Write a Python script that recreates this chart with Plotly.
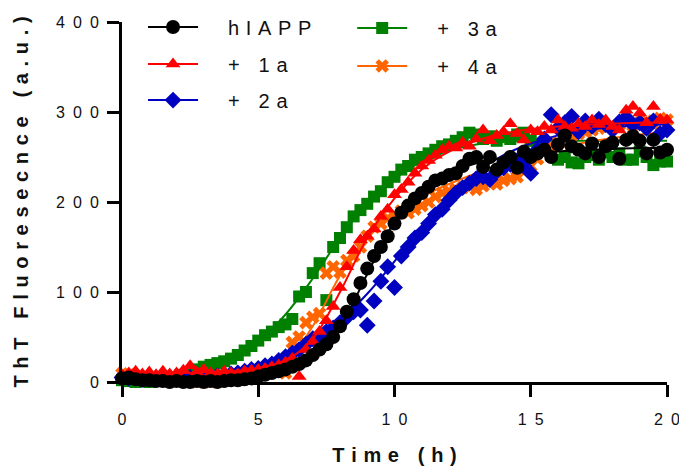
import plotly.graph_objects as go

# ThT kinetics: hIAPP alone and with the four additives
TIME_H = [round(0.25 * i, 2) for i in range(81)]

HIAPP = [4, 5, 3, 2, 2, 1, 1, 0, 1, 0, 0, 1, 0, 1, 0, 1,
         2, 2, 3, 4, 6, 8, 10, 12, 14, 17, 20, 24, 30, 36, 42, 50,
         62, 78, 92, 110, 126, 140, 150, 162, 176, 188, 196, 204,
         210, 217, 224, 226, 230, 232, 240, 248, 250, 239, 250, 236,
         244, 250, 238, 256, 250, 254, 258, 250, 264, 274, 262, 258,
         254, 265, 250, 262, 266, 248, 269, 273, 268, 254, 269, 255, 258]

PLUS_1A = [8, 10, 12, 9, 11, 8, 12, 9, 10, 13, 18, 11, 14, 10, 9, 12,
           10, 9, 12, 13, 14, 15, 17, 19, 22, 26, 6, 36, 45, 56, 68, 84,
           105, 128, 146, 158, 162, 170, 184, 192, 208, 214, 222, 232,
           240, 246, 252, 258, 262, 260, 266, 262, 270, 280, 268, 274,
           278, 287, 276, 269, 280, 278, 284, 280, 291, 284, 282, 287,
           284, 291, 286, 291, 284, 280, 302, 306, 299, 288, 306, 292, 291]

PLUS_2A = [5, 4, 6, 3, 5, 4, 3, 5, 4, 6, 5, 4, 6, 5, 7, 8,
           9, 10, 12, 14, 15, 18, 20, 24, 28, 32, 36, 42, 48, 52, 56, 60,
           66, 72, 78, 80, 63, 90, 112, 128, 105, 140, 150, 160,
           166, 176, 186, 192, 202, 210, 216, 221, 226, 228, 225, 234,
           238, 242, 246, 240, 232, 258, 270, 297, 282, 288, 295, 278,
           290, 284, 292, 286, 280, 289, 294, 286, 288, 282, 290, 276, 280]

PLUS_3A = [2, 1, 0, -1, 0, 1, 2, 2, 5, 8, 11, 14, 17, 19, 21, 23,
           26, 30, 35, 40, 46, 52, 56, 61, 64, 70, 95, 100, 121, 132, 91, 150,
           160, 172, 184, 191, 198, 206, 212, 222, 228, 236, 240, 247,
           250, 254, 258, 262, 264, 268, 272, 277, 275, 270, 273, 268,
           272, 270, 275, 277, 268, 262, 258, 252, 247, 250, 244, 243,
           250, 252, 247, 255, 250, 254, 247, 247, 256, 250, 241, 245, 245]

PLUS_4A = [9, 8, 6, 5, 4, 3, 3, 2, 2, 1, 1, 0, 1, 0, -1, -2,
           -1, -3, -5, -6, -7, -5, -3, -4, 10, 44, 50, 66, 72, 76, 121, 128,
           122, 135, 140, 150, 162, 172, 176, 182, 186, 190, 188, 192,
           196, 200, 206, 210, 212, 214, 216, 218, 214, 218, 222, 220,
           224, 226, 228, 234, 240, 248, 256, 262, 266, 270, 274, 276,
           278, 280, 282, 284, 284, 286, 288, 285, 288, 290, 286, 293, 291]

# sigmoidal fit curves, sampled hourly
FIT_TIME_H = list(range(21))
FIT_HIAPP = [2, 2, 2, 3, 4, 7, 14, 30, 62, 120, 178, 212, 232, 243, 249, 253, 256, 258, 259, 260, 260]
FIT_1A = [10, 10, 10, 11, 12, 15, 24, 48, 100, 160, 204, 236, 256, 268, 276, 281, 284, 286, 287, 288, 288]
FIT_2A = [4, 4, 5, 6, 9, 15, 26, 44, 68, 98, 134, 172, 205, 232, 252, 265, 274, 280, 283, 285, 286]
FIT_3A = [2, 3, 6, 13, 25, 45, 75, 115, 160, 198, 226, 245, 257, 264, 267, 268, 268, 268, 268, 268, 268]
FIT_4A = [3, 3, 3, 3, 4, 8, 22, 62, 118, 160, 188, 206, 220, 232, 243, 252, 260, 266, 271, 275, 278]

X_TICKS = [0, 5, 10, 15, 20]
Y_TICKS = [0, 100, 200, 300, 400]

FONT = "Arial, Liberation Sans, sans-serif"


def spread(text, gap="\u2004"):
    """Letter-spaced label text."""
    return gap.join(text)


# (name, points, fit, colour, symbol, size, legend id, legend x, legend y)
SERIES = [
    ("+ 3a", PLUS_3A, FIT_3A, "#008000", "square", 12, "legend4", 0.4224, 0.983),
    ("+ 4a", PLUS_4A, FIT_4A, "#FF6600", "x", 12, "legend5", 0.4224, 0.878),
    ("+ 2a", PLUS_2A, FIT_2A, "#0000C0", "diamond", 13, "legend3", 0.0386, 0.783),
    ("+ 1a", PLUS_1A, FIT_1A, "#FF0000", "triangle-up", 13, "legend2", 0.0386, 0.883),
    ("hIAPP", HIAPP, FIT_HIAPP, "#000000", "circle", 14, "legend", 0.0386, 0.986),
]

fig = go.Figure()
legends = {}
for name, pts, fit, color, symbol, size, leg, lx, ly in SERIES:
    fig.add_trace(go.Scatter(
        x=FIT_TIME_H, y=fit, mode="lines", line=dict(color=color, width=2, shape="spline"),
        showlegend=False, hoverinfo="skip", cliponaxis=False))
    fig.add_trace(go.Scatter(
        x=TIME_H, y=pts, mode="markers",
        marker=dict(color=color, symbol=symbol, size=size, line=dict(width=0)),
        showlegend=False, cliponaxis=False))
    # legend entry: line with marker
    fig.add_trace(go.Scatter(
        x=[None], y=[None], mode="lines+markers", name="\u2002\u2002\u2005" + spread(name),
        line=dict(color=color, width=2),
        marker=dict(color=color, symbol=symbol, size=size, line=dict(width=0)),
        legend=leg, showlegend=True))
    legends[leg] = dict(x=lx, y=ly, xanchor="left", yanchor="middle", bgcolor="rgba(0,0,0,0)",
                        borderwidth=0, itemwidth=50, font=dict(family=FONT, size=20, color="#111"))

axis_common = dict(
    showline=True, linecolor="black", linewidth=3, mirror=False,
    ticks="outside", ticklen=12, tickwidth=3, tickcolor="black",
    showgrid=False, zeroline=False, ticklabeloverflow="allow", automargin=False,
    tickfont=dict(family=FONT, size=16, color="#111"),
)

fig.update_layout(
    width=679, height=469, autosize=False,
    margin=dict(l=122, r=12, t=22, b=87, autoexpand=False),
    paper_bgcolor="white", plot_bgcolor="white",
    xaxis=dict(range=[0, 20], tickvals=X_TICKS,
               ticktext=[spread(str(v), "\u2002") for v in X_TICKS],
               ticklabelstandoff=9,
               title=dict(text="<b>" + spread("Time (h)") + "</b>",
                          font=dict(family=FONT, size=20, color="#111"), standoff=21),
               **axis_common),
    yaxis=dict(range=[0, 400], tickvals=Y_TICKS,
               ticktext=[spread(str(v), "\u2002") for v in Y_TICKS],
               ticklabelstandoff=5,
               title=dict(text="<b>" + spread("ThT Fluoresecnce (a.u.)") + "</b>",
                          font=dict(family=FONT, size=20, color="#111"), standoff=23),
               **axis_common),
    **legends,
)

fig.write_html("out.html")
